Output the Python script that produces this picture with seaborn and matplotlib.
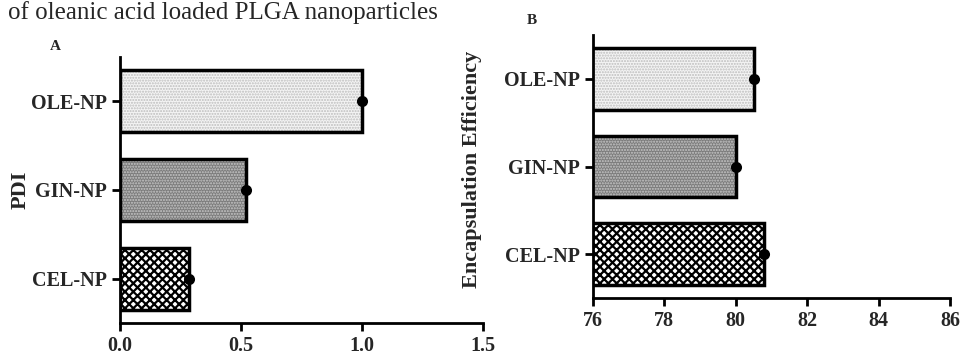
import matplotlib
matplotlib.use("Agg")
import matplotlib.pyplot as plt
import matplotlib.patches as mpatches
import seaborn as sns
import pandas as pd

# data
categories = ["OLE-NP", "GIN-NP", "CEL-NP"]
pdi_values = [1.00, 0.52, 0.285]
ee_values = [80.5, 80.02, 80.8]
pdi_ticks = [0.0, 0.5, 1.0, 1.5]
ee_ticks = [76, 78, 80, 82, 84, 86]

# fill colour / hatch per bar (OLE, GIN, CEL)
face_colors = ["#f4f4f4", "#7c7c7c", "#ffffff"]
hatch_colors = ["#bdbdbd", "#c8c8c8", "#000000"]
hatches = ["......", "......", "xxxx"]
hatch_widths = [1.0, 1.0, 1.6]

sns.set_style("white")
plt.rcParams["font.family"] = ["Liberation Serif", "DejaVu Serif"]
plt.rcParams["hatch.linewidth"] = 1.0

fig = plt.figure(figsize=(9.61, 3.58), dpi=100)
ax1 = fig.add_axes([0.1249, 0.0978, 0.378, 0.743])
ax2 = fig.add_axes([0.617, 0.1676, 0.3715, 0.7346])


def draw_panel(ax, values, ticks, xlim, ylabel, label_size):
    df = pd.DataFrame({"cat": categories, "val": values})
    sns.barplot(data=df, x="val", y="cat", orient="h", ax=ax, width=0.7,
                order=categories, color="white", errorbar=None)
    for patch, fc, hc, h, hw in zip(ax.patches, face_colors, hatch_colors, hatches, hatch_widths):
        patch.set_facecolor(fc)
        patch.set_edgecolor(hc)
        patch.set_hatch(h)
        if hasattr(patch, "set_hatch_linewidth"):
            patch.set_hatch_linewidth(hw)
        patch.set_linewidth(0)
        outline = mpatches.Rectangle(patch.get_xy(), patch.get_width(), patch.get_height(),
                                     fill=False, edgecolor="black", linewidth=2.5, zorder=3)
        ax.add_patch(outline)
    sns.stripplot(data=df, x="val", y="cat", orient="h", ax=ax, jitter=False,
                  color="black", size=8, zorder=5, order=categories)
    ax.set_xlim(*xlim)
    ax.set_ylim(2.5, -0.5)
    ax.set_xticks(ticks)
    ax.set_xlabel("")
    ax.set_ylabel(ylabel, fontsize=label_size, fontweight="bold")
    sns.despine(ax=ax)
    for side in ["left", "bottom"]:
        ax.spines[side].set_linewidth(2)
        ax.spines[side].set_color("black")
    ax.tick_params(axis="both", direction="out", length=6, width=2, color="black",
                   labelsize=14.5, left=True, bottom=True)
    for lbl in ax.get_xticklabels() + ax.get_yticklabels():
        lbl.set_fontweight("bold")


draw_panel(ax1, pdi_values, pdi_ticks, (0, 1.5), "PDI", 16)
ax1.set_xticklabels(["0.0", "0.5", "1.0", "1.5"], fontweight="bold")
ax1.yaxis.set_label_coords(-0.245, 0.5)

draw_panel(ax2, ee_values, ee_ticks, (76, 86), "Encapsulation Efficiency", 16)
ax2.yaxis.set_label_coords(-0.31, 0.49)

fig.text(0.052, 1 - 47 / 358, "A", fontsize=11, fontweight="bold", va="center")
fig.text(0.548, 1 - 20 / 358, "B", fontsize=11, fontweight="bold", va="center")
fig.text(0.008, 0.998, "of oleanic acid loaded PLGA nanoparticles", fontsize=18,
         va="top")

fig.savefig("out.png", dpi=100)
